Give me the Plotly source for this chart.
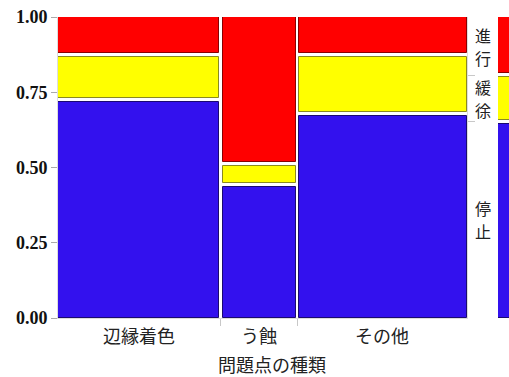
import plotly.graph_objects as go

# Categories of problem type and their share of all cases (column widths)
categories = ["辺縁着色", "う蝕", "その他"]
category_share = [0.3985, 0.186, 0.4155]

# Progression levels (bottom to top) and their proportions within each category
levels = ["停止", "緩徐", "進行"]
proportions = {
    "停止": [0.724, 0.442, 0.678],
    "緩徐": [0.151, 0.070, 0.196],
    "進行": [0.125, 0.488, 0.126],
}
fill_colors = {"停止": "#3311EE", "緩徐": "#FFFF00", "進行": "#FF0000"}
edge_colors = {"停止": "#1A0A70", "緩徐": "#8A8A20", "進行": "#8A0000"}

y_ticks = [0.0, 0.25, 0.5, 0.75, 1.0]
y_tick_text = ["0.00", "0.25", "0.50", "0.75", "1.00"]

GAP_Y = 0.013   # white gap between stacked cells (in y units)
GAP_X = 0.0075  # white gap between columns (in x units)

fig = go.Figure()

# column boundaries along x
x_edges = [0.0]
for s in category_share:
    x_edges.append(x_edges[-1] + s)
x_edges[-1] = 1.0

for lvl_i, lvl in enumerate(levels):
    xs, ws, bases, hs = [], [], [], []
    for ci in range(len(categories)):
        lo = sum(proportions[levels[k]][ci] for k in range(lvl_i))
        hi = lo + proportions[lvl][ci]
        b = lo + (GAP_Y / 2 if lo > 0.001 else 0)
        t = hi - (GAP_Y / 2 if hi < 0.999 else 0)
        xl = x_edges[ci] + (GAP_X / 2 if ci > 0 else 0)
        xr = x_edges[ci + 1] - (GAP_X / 2 if ci < len(categories) - 1 else 0)
        xs.append((xl + xr) / 2)
        ws.append(xr - xl)
        bases.append(b)
        hs.append(t - b)
    fig.add_trace(go.Bar(
        x=xs, y=hs, base=bases, width=ws,
        marker=dict(color=fill_colors[lvl], line=dict(color=edge_colors[lvl], width=1)),
        name=lvl, showlegend=False, hoverinfo="skip",
    ))

# marginal (all categories) column on the right
marginal = {lvl: sum(p * s for p, s in zip(proportions[lvl], category_share)) for lvl in levels}
cum = 0.0
marg_bounds = []
for lvl in levels:
    lo, hi = cum, cum + marginal[lvl]
    cum = hi
    marg_bounds.append((lo, hi))
    b = lo + (GAP_Y / 2 if lo > 0.001 else 0)
    t = hi - (GAP_Y / 2 if hi < 0.999 else 0)
    fig.add_trace(go.Bar(
        x=[0.5], y=[t - b], base=[b], width=[1.6],
        marker=dict(color=fill_colors[lvl], line=dict(color=edge_colors[lvl], width=1)),
        xaxis="x2", yaxis="y", showlegend=False, hoverinfo="skip",
    ))

W, H = 509, 377
left, plot_right, marg_left = 58, 467, 498
plot_h = 301
span = W - left
main_dom = [0, (plot_right - left) / span]
marg_dom = [(marg_left - left) / span, 1]

# level labels to the right of the plot, one character per row
CHAR_STEP = 23
annotations = []
for lvl, (lo, hi) in zip(levels, marg_bounds):
    n = len(lvl)
    for k, ch in enumerate(lvl):
        annotations.append(dict(
            x=(483 - left) / span, xref="paper", y=(lo + hi) / 2, yref="y",
            yshift=((n - 1) / 2 - k) * CHAR_STEP,
            text=ch, showarrow=False,
            font=dict(family="Noto Sans CJK JP", size=16, color="#222222"),
            xanchor="center", yanchor="middle",
        ))

# category labels under each column
for ci, cat in enumerate(categories):
    annotations.append(dict(
        x=(x_edges[ci] + x_edges[ci + 1]) / 2, xref="x", y=-17 / plot_h, yref="paper",
        text=cat, showarrow=False,
        font=dict(family="Noto Sans CJK JP", size=18, color="#222222"),
        xanchor="center", yanchor="middle",
    ))

# x axis title
annotations.append(dict(
    x=(272 - left) / span, xref="paper", y=-46 / plot_h, yref="paper",
    text="問題点の種類", showarrow=False,
    font=dict(family="Noto Sans CJK JP", size=18, color="#222222"),
    xanchor="center", yanchor="middle",
))

fig.update_layout(
    width=W, height=H,
    margin=dict(l=left, r=0, t=17, b=59),
    paper_bgcolor="white", plot_bgcolor="white",
    barmode="overlay", bargap=0,
    xaxis=dict(
        domain=main_dom, range=[0, 1],
        tickvals=x_edges[1:-1], ticktext=["", ""],
        ticks="outside", ticklen=7, tickcolor="#C8C8C8",
        showgrid=False, zeroline=False,
        showline=True, linecolor="#DDDDDD", linewidth=1,
    ),
    xaxis2=dict(
        domain=marg_dom, range=[0, 1], anchor="y",
        showticklabels=False, ticks="", showgrid=False, zeroline=False,
        showline=False,
    ),
    yaxis=dict(
        range=[0, 1], tickvals=y_ticks, ticktext=y_tick_text,
        ticks="outside", ticklen=6, tickcolor="#AAAAAA",
        tickfont=dict(family="Liberation Serif", size=18, color="#111111", weight="bold"),
        showgrid=False, zeroline=False,
        showline=True, linecolor="#DDDDDD", linewidth=1,
    ),
    yaxis2=dict(
        range=[0, 1], overlaying="y", side="right", anchor="x",
        tickvals=[b[1] for b in marg_bounds[:-1]], ticktext=["", ""],
        ticks="outside", ticklen=7, tickcolor="#C8C8C8",
        showgrid=False, zeroline=False,
        showline=True, linecolor="#DDDDDD", linewidth=1,
    ),
    annotations=annotations,
)

# invisible trace to activate the right-side axis
fig.add_trace(go.Scatter(x=[0], y=[0], xaxis="x", yaxis="y2", mode="markers",
                         marker=dict(opacity=0), showlegend=False, hoverinfo="skip"))

fig.write_html("out.html")
